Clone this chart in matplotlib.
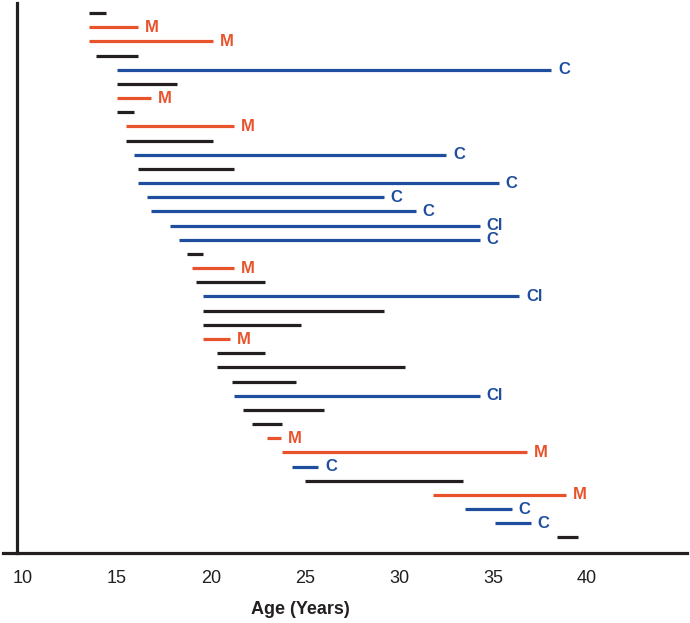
import matplotlib.pyplot as plt

# age ranges per subject, top to bottom
starts = [13.5, 13.5, 13.5, 13.9, 15.0, 15.0, 15.0, 15.0, 15.5, 15.5,
          15.9, 16.1, 16.1, 16.6, 16.8, 17.8, 18.3, 18.7, 19.0, 19.2,
          19.6, 19.6, 19.6, 19.6, 20.3, 20.3, 21.1, 21.2, 21.7, 22.2,
          23.0, 23.8, 24.3, 25.0, 31.8, 33.5, 35.1, 38.4]
ends = [14.4, 16.1, 20.1, 16.1, 38.1, 18.2, 16.8, 15.9, 21.2, 20.1,
        32.5, 21.2, 35.3, 29.2, 30.9, 34.3, 34.3, 19.6, 21.2, 22.9,
        36.4, 29.2, 24.8, 21.0, 22.9, 30.3, 24.5, 34.3, 26.0, 23.8,
        23.7, 36.8, 25.7, 33.4, 38.9, 36.0, 37.0, 39.5]
outcomes = ['', 'M', 'M', '', 'C', '', 'M', '', 'M', '',
            'C', '', 'C', 'C', 'C', 'Cl', 'C', '', 'M', '',
            'Cl', '', '', 'M', '', '', '', 'Cl', '', '',
            'M', 'M', 'C', '', 'M', 'C', 'C', '']
xticks = [10, 15, 20, 25, 30, 35, 40]

colors = {'': '#231f20', 'M': '#e8532b', 'C': '#1f4e9e', 'Cl': '#1f4e9e'}

plt.rcParams['font.family'] = ['Liberation Sans', 'DejaVu Sans']

fig = plt.figure(figsize=(6.9, 6.23), dpi=100)
ax = fig.add_axes([3 / 690, 70 / 623, 684 / 690, 550 / 623])

for i, (s, e, o) in enumerate(zip(starts, ends, outcomes)):
    row = i + 1
    c = colors[o]
    ax.hlines(row, s, e, color=c, linewidth=2.3)
    if o:
        ax.annotate(o, (e, row), xytext=(5, 0), textcoords='offset points',
                    ha='left', va='center', color=c, fontsize=12,
                    fontweight='bold')

ax.set_xlim(8.94, 45.32)
ax.set_ylim(39.1, 0.29)

for side in ['top', 'right']:
    ax.spines[side].set_visible(False)
ax.spines['left'].set_position(('data', 9.68))
for side in ['left', 'bottom']:
    ax.spines[side].set_linewidth(2.3)
    ax.spines[side].set_color('#231f20')

ax.set_yticks([])
ax.set_xticks(xticks)
ax.tick_params(axis='x', length=0, pad=12, labelsize=13, labelcolor='#231f20')

fig.text(300 / 690, 1 - 610 / 623, 'Age (Years)', ha='center', va='center',
         fontsize=13, fontweight='bold', color='#231f20')

fig.savefig('out.png', dpi=100)
